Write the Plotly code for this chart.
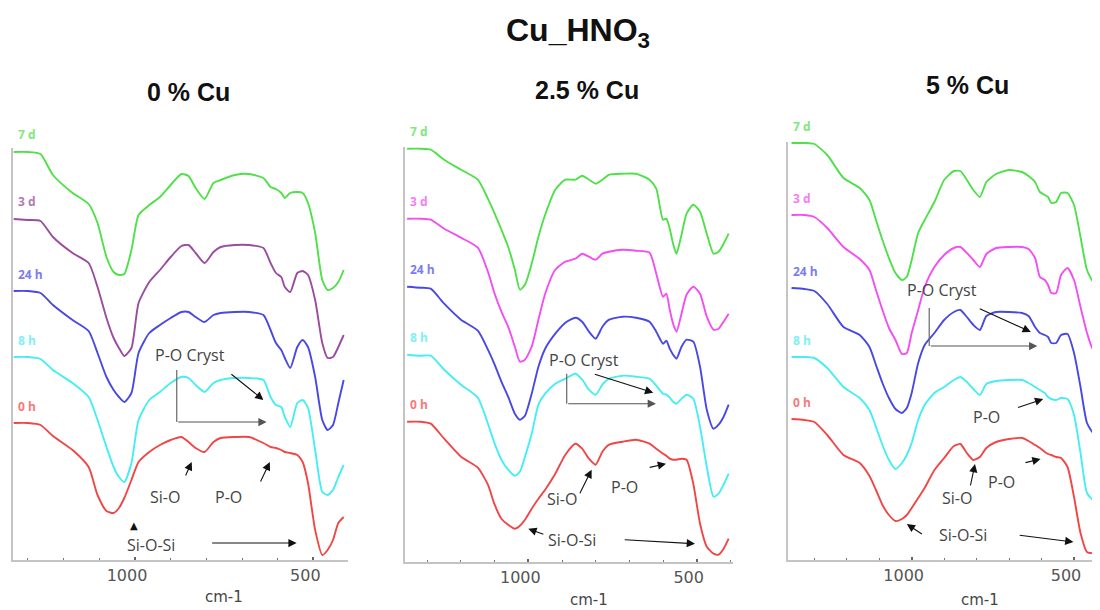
import plotly.graph_objects as go

# ---------------- data (wavenumber grids, cm-1; offset transmittance, a.u.) ----------------
P1_WN = [1340, 1300, 1265, 1230, 1175, 1130, 1105, 1080, 1060, 1045, 1030, 1010, 990, 960, 930, 900,
         870, 850, 830, 805, 780, 760, 720, 680, 640, 620, 605, 590, 580, 565, 545, 530, 515, 495,
         475, 460, 445, 430, 415]
P1_7D = [408, 408, 406, 385, 367, 356, 337, 303, 288, 285, 286, 310, 345, 355, 363, 375, 386, 384, 372,
         361, 377, 380, 385, 386, 382, 373, 371, 367, 362, 367, 368, 367, 357, 327, 280, 270, 272, 278, 290]
P1_3D = [341, 340, 339, 323, 307, 297, 273, 242, 222, 212, 204, 212, 257, 278, 290, 303, 314, 315, 307,
         297, 308, 313, 315, 315, 312, 297, 287, 283, 273, 268, 287, 289, 285, 260, 217, 202, 203, 213, 225]
P1_24H = [269, 269, 267, 255, 240, 229, 207, 183, 170, 163, 158, 167, 207, 227, 235, 242, 248, 248, 243,
          238, 245, 247, 248, 248, 245, 230, 217, 210, 202, 192, 213, 220, 213, 183, 140, 130, 135, 157, 180]
P1_8H = [203, 203, 201, 190, 177, 163, 140, 113, 93, 83, 78, 97, 140, 160, 168, 177, 183, 182, 175,
         168, 177, 180, 182, 182, 180, 163, 155, 153, 143, 133, 157, 160, 152, 110, 68, 65, 70, 83, 95]
P1_0H = [137, 137, 135, 124, 110, 93, 65, 49, 47, 52, 62, 80, 98, 108, 115, 120, 123, 118, 112,
         108, 118, 122, 123, 123, 117, 113, 112, 110, 108, 107, 105, 98, 77, 30, 5, 10, 20, 37, 43]

P2_WN = [1360, 1320, 1290, 1250, 1200, 1150, 1120, 1100, 1080, 1060, 1040, 1025, 1010, 990, 970, 950,
         920, 890, 860, 840, 820, 800, 780, 760, 720, 680, 640, 620, 600, 590, 580, 570, 560, 545,
         530, 510, 490, 470, 450, 435, 420, 405]
P2_7D = [413, 413, 412, 402, 392, 382, 363, 348, 332, 315, 292, 272, 277, 298, 325, 347, 372, 382, 382,
         386, 382, 378, 382, 387, 388, 388, 382, 373, 342, 343, 333, 318, 308, 327, 348, 357, 350, 328,
         308, 310, 318, 328]
P2_3D = [343, 343, 342, 333, 324, 314, 290, 268, 250, 235, 215, 200, 202, 215, 242, 268, 292, 300, 303,
         308, 305, 302, 308, 310, 312, 311, 309, 288, 265, 268, 252, 238, 230, 248, 267, 275, 268, 245,
         232, 233, 240, 248]
P2_24H = [275, 274, 273, 258, 242, 231, 212, 197, 180, 165, 148, 142, 146, 168, 195, 213, 228, 239, 244,
          240, 230, 223, 235, 242, 245, 244, 240, 230, 218, 221, 213, 207, 203, 215, 222, 220, 195, 152,
          133, 137, 145, 157]
P2_8H = [207, 206, 206, 192, 177, 164, 138, 118, 102, 92, 86, 90, 105, 128, 157, 168, 178, 183, 188,
         182, 172, 167, 177, 183, 186, 185, 183, 176, 168, 167, 164, 160, 158, 163, 167, 163, 135, 95,
         65, 68, 77, 88]
P2_0H = [140, 140, 138, 123, 105, 94, 77, 57, 43, 37, 33, 36, 42, 53, 63, 72, 88, 107, 118,
         113, 103, 97, 110, 117, 120, 122, 118, 113, 108, 106, 103, 102, 102, 103, 102, 78, 38, 15,
         8, 7, 13, 23]

P3_WN = [1370, 1330, 1300, 1260, 1210, 1160, 1130, 1110, 1090, 1070, 1050, 1030, 1015, 1000, 980, 960,
         930, 900, 870, 850, 830, 810, 790, 770, 740, 700, 660, 640, 620, 605, 590, 580, 570, 555,
         540, 520, 500, 480, 460, 440, 420]
P3_7D = [417, 417, 416, 405, 382, 372, 360, 340, 320, 302, 287, 280, 283, 300, 327, 340, 358, 380, 389,
         389, 380, 370, 363, 378, 386, 390, 388, 384, 378, 368, 365, 363, 357, 358, 367, 367, 355, 323,
         290, 278, 280]
P3_3D = [345, 345, 343, 332, 313, 301, 290, 270, 250, 232, 220, 206, 207, 227, 250, 273, 293, 305, 312,
         313, 307, 300, 293, 306, 312, 313, 313, 311, 302, 283, 280, 275, 267, 267, 285, 292, 280, 253,
         227, 210, 212]
P3_24H = [272, 271, 269, 256, 233, 225, 213, 195, 177, 162, 151, 147, 152, 167, 197, 215, 227, 240, 248,
          250, 243, 235, 230, 244, 248, 248, 247, 244, 233, 227, 225, 223, 217, 217, 225, 226, 207, 173,
          137, 127, 140]
P3_8H = [203, 203, 202, 192, 173, 162, 150, 133, 115, 100, 91, 97, 105, 117, 140, 155, 167, 173, 180,
         183, 178, 171, 165, 176, 179, 180, 180, 177, 173, 170, 167, 163, 161, 160, 162, 161, 145, 107,
         67, 60, 67]
P3_0H = [141, 140, 138, 125, 105, 97, 84, 70, 55, 45, 39, 41, 45, 52, 62, 72, 90, 102, 114,
         116, 107, 100, 103, 112, 118, 121, 122, 119, 115, 112, 108, 106, 105, 103, 102, 93, 63, 27,
         8, 7, 13]

SERIES_NAMES = ["7 d", "3 d", "24 h", "8 h", "0 h"]
PANEL_TITLES = ["0 % Cu", "2.5 % Cu", "5 % Cu"]
MAIN_TITLE = "Cu_HNO<sub>3</sub>"
X_TICKS = [1000, 500]
X_LABEL = "cm-1"

# ---------------- layout helpers (page has an 8px body margin) ----------------
OX, OY = 8, 8
W, H = 1100 - OX, 610 - OY

def px(x):
    return (x - OX) / W

def py(y):
    return 1 - (y - OY) / H

GREEN, PURPLE, BLUE, CYAN, RED, MAGENTA = "#4fe04a", "#9a4c9e", "#4848e4", "#46eef2", "#f04646", "#f24ef2"
LBL = {GREEN: "#80e87c", PURPLE: "#b07ab6", BLUE: "#7c7cf0", CYAN: "#80f0f4",
       RED: "#f47a7a", MAGENTA: "#f47ef4"}

panels = [
    dict(wn=P1_WN, ys=[P1_7D, P1_3D, P1_24H, P1_8H, P1_0H], cols=[GREEN, PURPLE, BLUE, CYAN, RED],
         xdom=[px(13), px(348)], xr=[1342, 402.9], ydom=[py(560), py(148)], yr=[0, 412]),
    dict(wn=P2_WN, ys=[P2_7D, P2_3D, P2_24H, P2_8H, P2_0H], cols=[GREEN, MAGENTA, BLUE, CYAN, RED],
         xdom=[px(405), px(733)], xr=[1366.3, 392.1], ydom=[py(561.7), py(146.7)], yr=[0, 415]),
    dict(wn=P3_WN, ys=[P3_7D, P3_3D, P3_24H, P3_8H, P3_0H], cols=[GREEN, MAGENTA, BLUE, CYAN, RED],
         xdom=[px(788.3), 1.0], xr=[1380, 420], ydom=[py(560), py(141.7)], yr=[0, 418.3]),
]

fig = go.Figure()
annotations = []
shapes = []
FONT = "Liberation Sans, Arial, sans-serif"
AFONT = "Open Sans, sans-serif"

for i, p in enumerate(panels):
    sfx = "" if i == 0 else str(i + 1)
    xa, ya = "x" + sfx, "y" + sfx
    for name, y, c in zip(SERIES_NAMES, p["ys"], p["cols"]):
        fig.add_trace(go.Scatter(x=p["wn"], y=y, mode="lines", name=name, xaxis=xa, yaxis=ya,
                                 line=dict(color=c, width=1.9, shape="spline", smoothing=0.6),
                                 hoverinfo="skip"))
        annotations.append(dict(x=p["xr"][0], y=y[0], xref=xa, yref=ya, text="<b>%s</b>" % name,
                                showarrow=False, xanchor="left", yanchor="middle", xshift=3, yshift=17,
                                font=dict(family=AFONT, size=12, color=LBL[c])))
    fig.layout["xaxis" + sfx] = dict(domain=p["xdom"], range=p["xr"], anchor=ya, showgrid=False,
                                     zeroline=False, showline=True, linecolor="#c4c4c4", linewidth=2,
                                     tickvals=X_TICKS, ticks="inside", ticklen=3, tickcolor="#666",
                                     tickwidth=1.5, ticklabelshift=8,
                                     minor=dict(dtick=100, tick0=0, ticks="inside", ticklen=2,
                                                tickcolor="#777", tickwidth=1, showgrid=False),
                                     tickfont=dict(family="DejaVu Sans, sans-serif", size=16, color="#555"))
    fig.layout["yaxis" + sfx] = dict(domain=p["ydom"], range=p["yr"], anchor=xa, showgrid=False,
                                     zeroline=False, showline=True, linecolor="#c4c4c4", linewidth=2,
                                     showticklabels=False, ticks="")

# titles and axis labels
def paper_text(x, y, text, size, bold=True, color="#111", family=FONT):
    annotations.append(dict(x=px(x), y=py(y), xref="paper", yref="paper",
                            text=("<b>%s</b>" % text) if bold else text, showarrow=False,
                            xanchor="center", yanchor="middle",
                            font=dict(family=family, size=size, color=color)))

paper_text(578, 33, MAIN_TITLE, 32)
for (tx, ty), t in zip([(188, 92), (587, 90), (967, 85)], PANEL_TITLES):
    paper_text(tx, ty, t, 25)
for tx, ty in [(224, 597), (589, 600), (980, 600)]:
    paper_text(tx, ty, X_LABEL, 15, bold=False, color="#444", family="DejaVu Sans, sans-serif")

# peak annotations (data coordinates per panel)
def label(ax, text, x, y):
    sfx = "" if ax == 0 else str(ax + 1)
    annotations.append(dict(x=x, y=y, xref="x" + sfx, yref="y" + sfx, text=text, showarrow=False,
                            font=dict(family=AFONT, size=16, color="#444")))

def arrow(ax, x0, y0, x1, y1, color="#111"):
    sfx = "" if ax == 0 else str(ax + 1)
    annotations.append(dict(x=x1, y=y1, ax=x0, ay=y0, xref="x" + sfx, yref="y" + sfx,
                            axref="x" + sfx, ayref="y" + sfx, text="", showarrow=True,
                            arrowhead=2, arrowsize=1.5, arrowwidth=1.1, arrowcolor=color))

def vline(ax, x, y0, y1):
    sfx = "" if ax == 0 else str(ax + 1)
    shapes.append(dict(type="line", xref="x" + sfx, yref="y" + sfx, x0=x, x1=x, y0=y0, y1=y1,
                       line=dict(color="#666", width=1.2)))

# panel 1
label(0, "P-O Cryst", 846, 205)
vline(0, 883, 190, 138)
arrow(0, 883, 138, 631, 138, "#555")
arrow(0, 734, 187, 640, 160)
label(0, "Si-O", 916, 63)
arrow(0, 860, 83, 841, 98)
label(0, "P-O", 738, 63)
arrow(0, 650, 77, 622, 98)
annotations.append(dict(x=1003, y=35, xref="x", yref="y", text="▲", showarrow=False,
                        font=dict(family="DejaVu Sans", size=10, color="#111")))
label(0, "Si-O-Si", 955, 15)
arrow(0, 788, 17, 547, 17)

# panel 2
label(1, "P-O Cryst", 835, 202)
vline(1, 886, 188, 158)
arrow(1, 886, 158, 621, 158, "#555")
arrow(1, 807, 188, 629, 169)
label(1, "Si-O", 901, 63)
arrow(1, 849, 67, 812, 92)
label(1, "P-O", 713, 75)
arrow(1, 644, 94, 591, 98)
label(1, "Si-O-Si", 871, 22)
arrow(1, 951, 27, 1000, 33)
arrow(1, 718, 22, 505, 18)

# panel 3
label(2, "P-O Cryst", 908, 270)
vline(2, 946, 252, 214)
arrow(2, 946, 214, 613, 214, "#555")
arrow(2, 795, 252, 633, 228)
label(2, "P-O", 769, 143)
arrow(2, 677, 152, 595, 161)
label(2, "P-O", 723, 78)
arrow(2, 654, 97, 603, 101)
label(2, "Si-O", 861, 62)
arrow(2, 820, 73, 805, 96)
label(2, "Si-O-Si", 841, 25)
arrow(2, 964, 25, 1015, 36)
arrow(2, 672, 25, 502, 18)

fig.update_layout(width=W, height=H, margin=dict(l=0, r=0, t=0, b=0),
                  paper_bgcolor="white", plot_bgcolor="white", showlegend=False,
                  annotations=annotations, shapes=shapes)

fig.write_html("out.html")
